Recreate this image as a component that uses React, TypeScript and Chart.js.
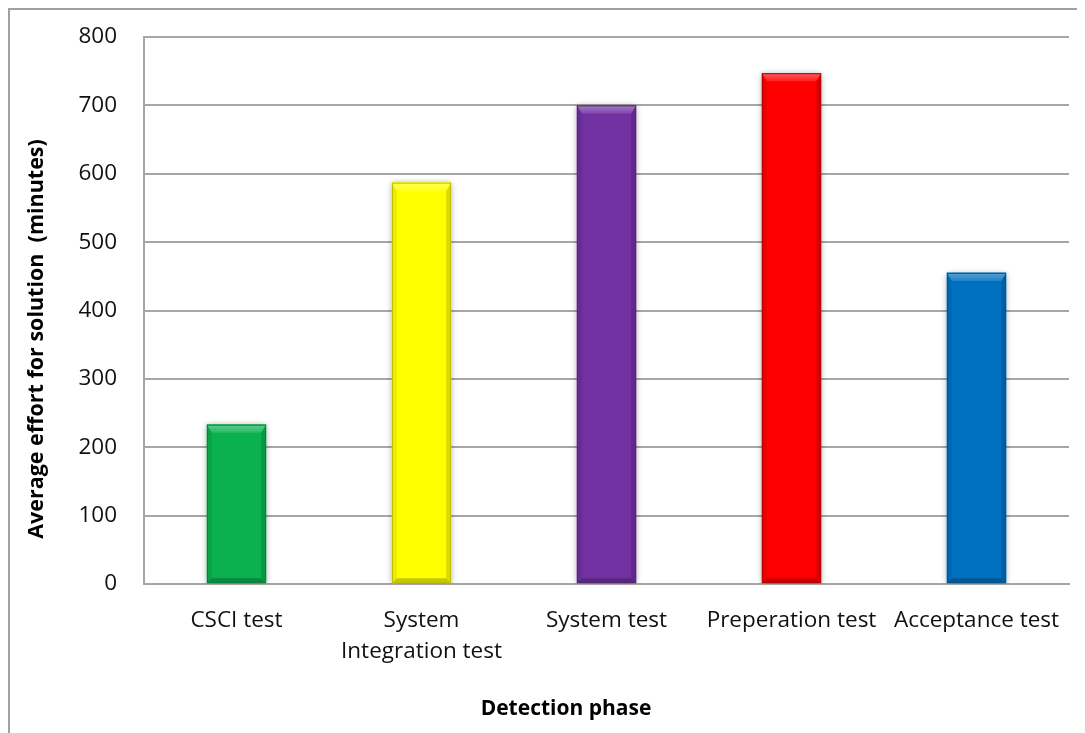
import React, { useEffect, useRef } from "react";
import { Chart, registerables } from "chart.js";

Chart.register(...registerables);

const phases: (string | string[])[] = [
  "CSCI test",
  ["System", "Integration test"],
  "System test",
  "Preperation test",
  "Acceptance test",
];
const effortMinutes = [233, 587, 700, 747, 455];
const barColors = ["#0bb04f", "#ffff00", "#7131a1", "#ff0000", "#0070c0"];
const yTicks = [0, 100, 200, 300, 400, 500, 600, 700, 800];

const yTitle = "Average effort for solution  (minutes)";
const xTitle = "Detection phase";

const FONT = "'Open Sans', sans-serif";

function shade(hex: string, amt: number): string {
  // amt > 0 mixes with white, amt < 0 mixes with black
  const n = parseInt(hex.slice(1), 16);
  let r = (n >> 16) & 255, g = (n >> 8) & 255, b = n & 255;
  const t = amt > 0 ? 255 : 0;
  const p = Math.abs(amt);
  r = Math.round(r + (t - r) * p);
  g = Math.round(g + (t - g) * p);
  b = Math.round(b + (t - b) * p);
  return `rgb(${r},${g},${b})`;
}

// Soft drop shadow under the bars plus a bevelled edge on each bar
const bevelPlugin = {
  id: "bevel",
  beforeDatasetsDraw(chart: any) {
    const ctx = chart.ctx;
    ctx.save();
    ctx.shadowColor = "rgba(0,0,0,0.35)";
    ctx.shadowBlur = 6;
    ctx.shadowOffsetX = 0;
    ctx.shadowOffsetY = 1;
  },
  afterDatasetsDraw(chart: any) {
    const ctx = chart.ctx;
    ctx.restore();
    const meta = chart.getDatasetMeta(0);
    meta.data.forEach((bar: any, i: number) => {
      const { x, y, base, width } = bar.getProps(["x", "y", "base", "width"], true);
      const L = x - width / 2, R = x + width / 2, T = y, B = base;
      const c = barColors[i];
      const bv = 8;
      const poly = (pts: number[][], fill: any) => {
        ctx.beginPath();
        ctx.moveTo(pts[0][0], pts[0][1]);
        for (let k = 1; k < pts.length; k++) ctx.lineTo(pts[k][0], pts[k][1]);
        ctx.closePath();
        ctx.fillStyle = fill;
        ctx.fill();
      };
      // left edge
      poly([[L, T], [L + bv * 0.6, T + bv], [L + bv * 0.6, B - bv * 0.6], [L, B]], shade(c, -0.08));
      // right edge
      poly([[R, T], [R - bv * 0.6, T + bv], [R - bv * 0.6, B - bv * 0.6], [R, B]], shade(c, -0.14));
      // bottom edge
      poly([[L, B], [L + bv * 0.6, B - bv * 0.6], [R - bv * 0.6, B - bv * 0.6], [R, B]], shade(c, -0.22));
      // top highlight
      const g = ctx.createLinearGradient(0, T, 0, T + bv);
      g.addColorStop(0, shade(c, 0.35));
      g.addColorStop(1, shade(c, 0.12));
      poly([[L, T], [R, T], [R - bv * 0.6, T + bv], [L + bv * 0.6, T + bv]], g);
      ctx.strokeStyle = shade(c, -0.25);
      ctx.lineWidth = 1;
      ctx.strokeRect(L + 0.5, T + 0.5, width - 1, B - T - 1);
    });
  },
};

// Axis titles placed by hand
const titlesPlugin = {
  id: "axisTitles",
  afterDraw(chart: any) {
    const ctx = chart.ctx;
    ctx.save();
    ctx.fillStyle = "#000";
    ctx.textAlign = "center";
    ctx.textBaseline = "middle";
    ctx.font = `bold 21px ${FONT}`;
    ctx.fillText(xTitle, 558, 701);
    ctx.font = `bold 21.5px ${FONT}`;
    ctx.translate(29, 331);
    ctx.rotate(-Math.PI / 2);
    ctx.fillText(yTitle, 0, 0);
    ctx.restore();
  },
};

export default function App() {
  const ref = useRef<HTMLCanvasElement | null>(null);

  useEffect(() => {
    if (!ref.current) return;
    const chart = new Chart(ref.current, {
      type: "bar",
      data: {
        labels: phases,
        datasets: [
          {
            data: effortMinutes,
            backgroundColor: barColors,
            borderWidth: 0,
            barThickness: 59,
          },
        ],
      },
      plugins: [bevelPlugin, titlesPlugin],
      options: {
        animation: false,
        responsive: false,
        events: [],
        layout: { padding: { left: 0, top: 29, right: 16, bottom: 0 } },
        plugins: { legend: { display: false }, tooltip: { enabled: false } },
        scales: {
          x: {
            grid: { display: false, drawTicks: false },
            border: { display: true, color: "#a6a6a6", width: 2 },
            ticks: {
              color: "#111",
              font: { family: FONT, size: 22.5, lineHeight: 31 / 22.5 },
              padding: 21,
              maxRotation: 0,
              autoSkip: false,
            },
            afterFit: (s: any) => {
              s.height = 149;
            },
          },
          y: {
            min: 0,
            max: 800,
            afterBuildTicks: (s: any) => {
              s.ticks = yTicks.map((v) => ({ value: v }));
            },
            grid: { color: "#a6a6a6", lineWidth: 2, drawTicks: false },
            border: { display: true, color: "#a6a6a6", width: 2 },
            ticks: {
              color: "#111",
              font: { family: FONT, size: 22.5 },
              padding: 27,
            },
            afterFit: (s: any) => {
              s.width = 136;
              s.paddingTop = 0;
              s.paddingBottom = 0;
            },
          },
        },
      },
    });
    return () => chart.destroy();
  }, []);

  return (
    <div
      style={{
        position: "relative",
        width: 1077,
        height: 725,
        boxSizing: "border-box",
        borderTop: "2px solid #a0a0a0",
        borderLeft: "2px solid #a0a0a0",
        background: "#fff",
      }}
    >
      <canvas
        ref={ref}
        width={1077}
        height={725}
        style={{ position: "absolute", left: -2, top: -2, display: "block" }}
      />
    </div>
  );
}
